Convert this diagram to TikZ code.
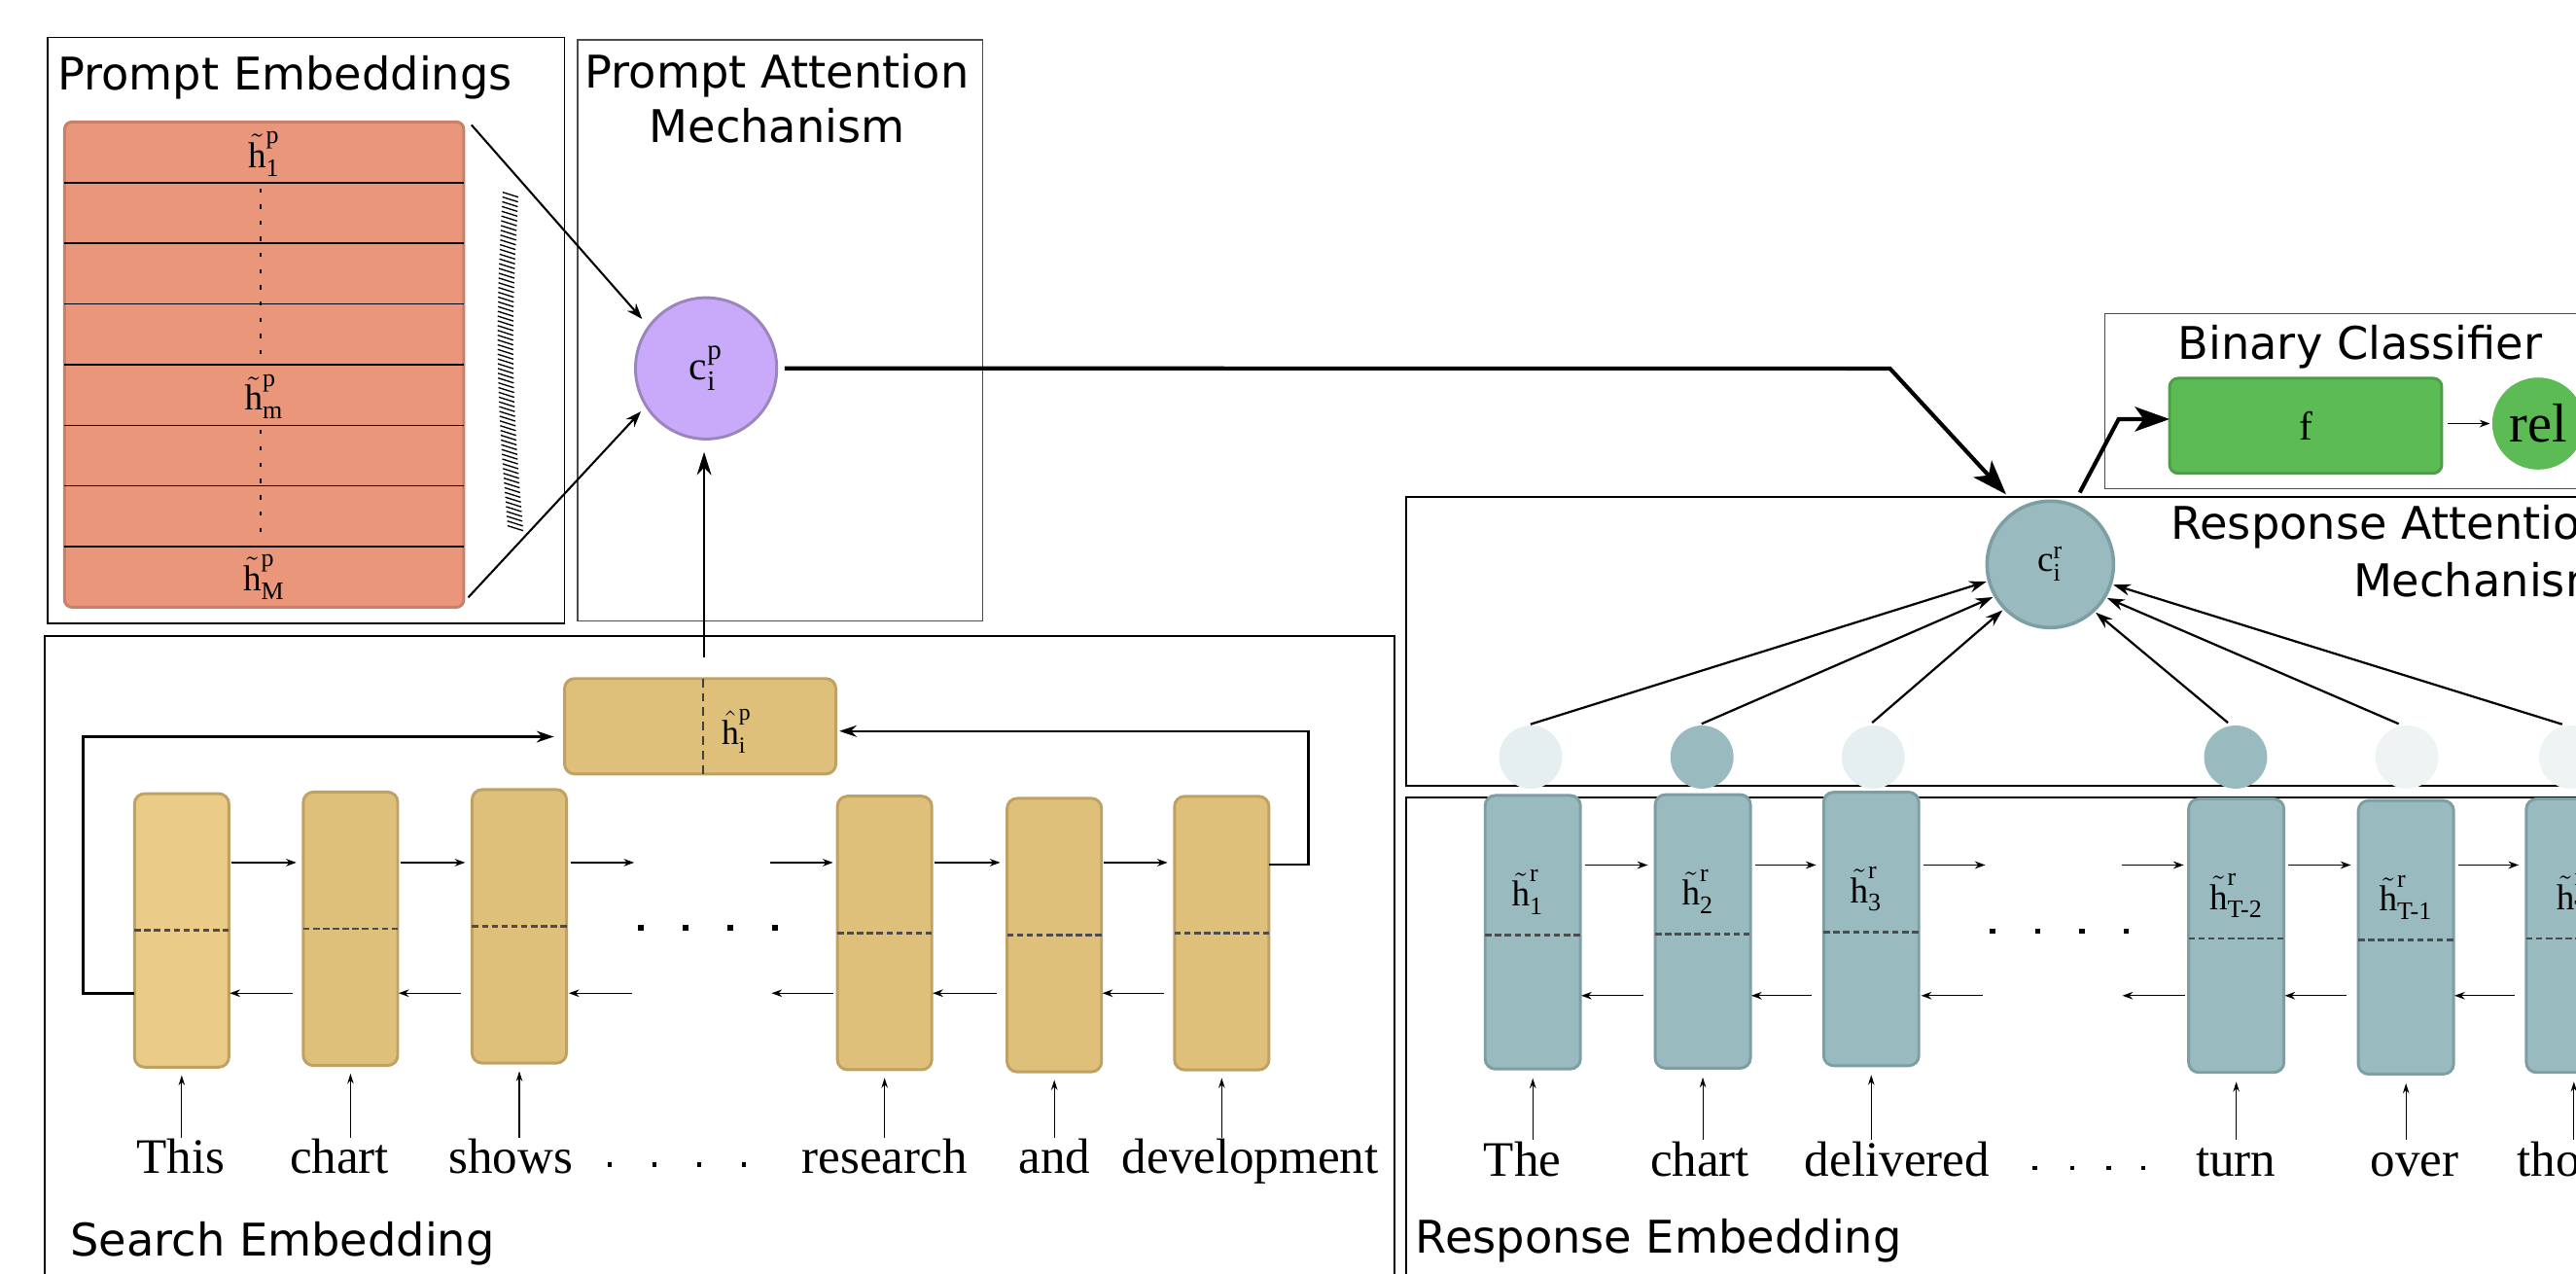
\documentclass[tikz,border=0pt]{standalone}
\usepackage{fontspec}
\usepackage{amsmath}
\setmainfont{Liberation Serif}
\newfontfamily\dvs{DejaVu Sans}
\usetikzlibrary{arrows.meta,calc}
\definecolor{cSalmon}{HTML}{E9967A}
\definecolor{cSalmonD}{HTML}{C98068}
\definecolor{cLilac}{HTML}{C9A9F9}
\definecolor{cLilacD}{HTML}{9A86BC}
\definecolor{cGold}{HTML}{DEC07A}
\definecolor{cGoldL}{HTML}{EACB87}
\definecolor{cGoldD}{HTML}{BFA263}
\definecolor{cTeal}{HTML}{99BBBF}
\definecolor{cTealD}{HTML}{7D9EA2}
\definecolor{cPale}{HTML}{E6EFF0}
\definecolor{cPaler}{HTML}{EEF4F4}
\definecolor{cGreen}{HTML}{5DBB55}
\definecolor{cGreenD}{HTML}{4E9E48}
\newcommand{\htl}[2]{$\tilde{\text{h}}^{\text{#1}}_{\text{#2}}$}
\tikzset{
  sect/.style={font=\dvs\fontsize{15.6}{18.7}\selectfont, inner sep=0pt},
  word/.style={font=\fontsize{17.2}{20}\selectfont, inner sep=0pt, anchor=base},
  hlab/.style={font=\fontsize{12.5}{14}\selectfont, inner sep=0pt},
  gcell/.style={rectangle, rounded corners=3.5pt, fill=cGold, draw=cGoldD, line width=1pt,
     minimum width=1.15cm, minimum height=3.33cm, inner sep=0pt, outer sep=0pt},
  tcell/.style={rectangle, rounded corners=3.5pt, fill=cTeal, draw=cTealD, line width=1pt,
     minimum width=1.16cm, minimum height=3.33cm, inner sep=0pt, outer sep=0pt},
  stackbox/.style={rectangle, rounded corners=2.5pt, fill=cSalmon, draw=cSalmonD, line width=1pt,
     minimum width=4.86cm, minimum height=5.908cm, inner sep=0pt, outer sep=0pt},
  attcirc/.style={circle, minimum size=0.768cm, inner sep=0pt, outer sep=0pt},
  midline/.style={draw=black!70, line width=0.9pt, dash pattern=on 2.2pt off 1.2pt},
  rowline/.style={draw=black, line width=0.5pt},
  hatchline/.style={draw=black, line width=0.45pt},
  boxA/.style={draw=black, line width=0.5pt},
  boxB/.style={draw=black!70, line width=0.5pt},
  boxC/.style={draw=black, line width=0.9pt},
  boxD/.style={draw=black, line width=0.65pt},
  sarr/.style={line width=0.45pt, -{Stealth[length=3.6pt,width=2.6pt]}},
  inarr/.style={line width=0.4pt, -{Stealth[length=3.5pt,width=2.2pt]}},
  parr/.style={line width=0.7pt, -{Stealth[length=5.5pt,width=4pt]}},
  rarr/.style={line width=0.75pt, -{Stealth[length=6pt,width=4pt]}},
  fbarr/.style={line width=0.8pt, -{Stealth[length=6pt,width=4pt]}},
  uparr/.style={line width=0.9pt, -{Stealth[length=8pt,width=5pt]}},
  thickarr/.style={line width=1.4pt, -{Stealth[length=12pt,width=8.5pt,inset=3pt]}},
}
\begin{document}
\begin{tikzpicture}[x=0.02cm, y=-0.02cm]
\useasboundingbox (0,0) rectangle (1568,775.4);
\fill[white] (0,0) rectangle (1568,775.4);
\clip (0,0) rectangle (1568,775.4);

% ---------- frames ----------
\draw[boxA] (28.9,22.9) rectangle (343.5,379.4);
\draw[boxB] (351.6,24.2) rectangle (598,378);
\draw[boxC] (27.2,387.1) rectangle (848.9,800);
\draw[boxB] (1281.2,191) rectangle (1600,297.4);
\draw[boxD] (855.8,302.6) rectangle (1600,478.5);
\draw[boxD] (855.8,485.3) rectangle (1600,800);

% ---------- section titles ----------
\node[sect, anchor=base west] (tPE) at (34.7,54.8) {Prompt Embeddings};
\node[sect, anchor=base] (tPA1) at (473,53.6) {Prompt Attention};
\node[sect, anchor=base] (tPA2) at (473,87) {Mechanism};
\node[sect, anchor=base west] (tSE) at (42.4,764.5) {Search Embedding};
\node[sect, anchor=base west] (tRE) at (861.4,762.9) {Response Embedding};
\node[sect, anchor=base west] (tBC) at (1325.3,218.8) {Binary Classifier};
\node[sect, anchor=base east] (tRA1) at (1588.5,328.5) {Response Attention};
\node[sect, anchor=base east] (tRA2) at (1588.5,363) {Mechanism};

% ---------- prompt embeddings stack ----------
\node[stackbox] (pe) at (160.8,221.9) {};
\foreach \k in {1,...,7}
  \draw[rowline] ($(pe.north west)!\k/8!(pe.south west)$) -- ($(pe.north east)!\k/8!(pe.south east)$);
\node[hlab] (pl1) at ($(pe.north)!1/16!(pe.south)+(0,1)$) {\htl{p}{1}};
\node[hlab] (plm) at ($(pe.north)!9/16!(pe.south)+(0,1)$) {\htl{p}{m}};
\node[hlab] (plM) at ($(pe.north)!15/16!(pe.south)$) {\htl{p}{M}};
\foreach \i in {0,...,10} \fill (157.9,{114.6+9.84*\i}) rectangle ++(1.6,2.6);
\foreach \i in {0,...,6} \fill (157.9,{261.6+9.95*\i}) rectangle ++(1.6,2.6);
% hatched bar
\foreach \i in {0,...,70} {
  \pgfmathsetmacro\tt{\i/70}
  \pgfmathsetmacro\yy{117+203*\tt}
  \pgfmathsetmacro\xx{306+3*\tt-4.5*sin(180*\tt)}
  \draw[hatchline] (\xx,\yy) -- ++(9.5,3);
}

% ---------- prompt attention ----------
\node[circle, fill=cLilac, draw=cLilacD, line width=1pt, minimum size=1.72cm, inner sep=0pt, outer sep=0pt,
      font=\fontsize{14}{16}\selectfont] (cp) at (429.8,224.2) {$\text{c}^{\text{p}}_{\text{i}}$};
\draw[parr, shorten >=3.6pt] ([shift={(4.7,1.8)}]pe.north east) -- (cp.144.4);
\draw[parr, shorten >=2.7pt] ([shift={(2.7,-5.9)}]pe.south east) -- (cp.212.8);

% ---------- search embedding ----------
\node[gcell, fill=cGoldL] (g1) at (110.6,566.3) {};
\node[gcell] (g2) at (213.35,565.3) {};
\node[gcell] (g3) at (316.1,563.8) {};
\node[gcell] (g4) at (538.45,567.85) {};
\node[gcell] (g5) at (641.75,569.15) {};
\node[gcell] (g6) at (743.65,567.95) {};
\foreach \i in {1,...,6} \draw[midline] (g\i.west) -- (g\i.east);

\node[rectangle, rounded corners=3.5pt, fill=cGold, draw=cGoldD, line width=1pt,
      minimum width=3.304cm, minimum height=1.162cm, inner sep=0pt, outer sep=0pt] (hp) at (426.2,442.05) {};
\coordinate (hpd) at (427.8,0);
\draw[draw=black!75, line width=0.7pt, dash pattern=on 3pt off 2pt] (hp.north -| hpd) -- (hp.south -| hpd);
\node[hlab, font=\fontsize{12}{14}\selectfont] (hpl) at (448.5,445) {$\hat{\text{h}}^{\text{p}}_{\text{i}}$};

\coordinate (hpx) at (428.6,0);
\draw[uparr, shorten <=7.4pt, shorten >=4.5pt] (hp.north -| hpx) -- (cp.south -| hpx);

\coordinate (fl1) at (50.6,604.6); \coordinate (fl2) at (50.6,448.4);
\draw[fbarr, shorten >=3.7pt] (g1.west |- fl1) -- (fl1) -- (fl2) -- (hp.west |- fl2);
\coordinate (fr1) at (796.4,526.2); \coordinate (fr2) at (796.4,445);
\draw[fbarr, shorten >=1.2pt] (g6.east |- fr1) -- (fr1) -- (fr2) -- (hp.east |- fr2);

\coordinate (fwL) at (0,525); \coordinate (bwL) at (0,604.5);
\foreach \a/\b in {g1/g2,g2/g3,g4/g5,g5/g6} {
  \draw[sarr, shorten <=0.9pt, shorten >=2.4pt] (\a.east |- fwL) -- (\b.west |- fwL);
  \draw[sarr, shorten <=3.7pt, shorten >=0.3pt] (\b.west |- bwL) -- (\a.east |- bwL);
}
\coordinate (lgf1) at (386,525); \coordinate (lgf2) at (468.6,525);
\coordinate (lgb1) at (384.9,604.5); \coordinate (lgb2) at (469.7,604.5);
\draw[sarr, shorten <=1.5pt] (g3.east |- fwL) -- (lgf1);
\draw[sarr, shorten >=1.5pt] (lgf2) -- (g4.west |- fwL);
\draw[sarr, shorten >=0.8pt] (lgb1) -- (g3.east |- bwL);
\draw[sarr, shorten <=1.5pt] (g4.west |- bwL) -- (lgb2);
\foreach \x in {390,417.5,444.7,471.8} \fill (\x-1.7,563) rectangle ++(3.4,3.4);

\node[word] (w1) at (110,714) {This};
\node[word] (w2) at (206.6,714) {chart};
\node[word] (w3) at (311,714) {shows};
\node[word] (w4) at (538.5,714) {research};
\node[word] (w5) at (642,714) {and};
\node[word] (w6) at (761,714) {development};
\foreach \x in {371.3,398.5,425.6,452.8} \fill (\x-1.3,707.5) rectangle ++(2.6,2.6);
\coordinate (inL) at (0,692.4);
\foreach \i in {1,...,6} \draw[inarr, shorten >=2.8pt] (g\i.south |- inL) -- (g\i.south);

% ---------- response embedding ----------
\node[tcell] (t1) at (933,567.4) {};
\node[tcell] (t2) at (1036.5,566.9) {};
\node[tcell] (t3) at (1139,565.4) {};
\node[tcell] (t4) at (1361.2,569.5) {};
\node[tcell] (t5) at (1464.5,570.5) {};
\node[tcell] (t6) at (1566.7,569.5) {};
\foreach \i in {1,...,6} \draw[midline] ([yshift=-1pt]t\i.west) -- ([yshift=-1pt]t\i.east);
\node[hlab, anchor=base] (r1) at ($(t1.center)+(-3,-16)$) {\htl{r}{1}};
\node[hlab, anchor=base] (r2) at ($(t2.center)+(-3,-16)$) {\htl{r}{2}};
\node[hlab, anchor=base] (r3) at ($(t3.center)+(-3,-16)$) {\htl{r}{3}};
\node[hlab, anchor=base] (r4) at ($(t4.center)+(0,-16)$) {\htl{r}{T-2}};
\node[hlab, anchor=base] (r5) at ($(t5.center)+(0,-16)$) {\htl{r}{T-1}};
\node[hlab, anchor=base] (r6) at ($(t6.center)+(0,-16)$) {\htl{r}{T}};

\coordinate (fwR) at (0,526.5); \coordinate (bwR) at (0,606);
\foreach \a/\b in {t1/t2,t2/t3,t4/t5,t5/t6} {
  \draw[sarr, shorten <=1.6pt, shorten >=2.6pt] (\a.east |- fwR) -- (\b.west |- fwR);
  \draw[sarr, shorten <=4pt, shorten >=0.3pt] (\b.west |- bwR) -- (\a.east |- bwR);
}
\coordinate (rgf1) at (1208.4,526.5); \coordinate (rgf2) at (1291.4,526.5);
\coordinate (rgb1) at (1207,606); \coordinate (rgb2) at (1291.9,606);
\draw[sarr, shorten <=1.6pt] (t3.east |- fwR) -- (rgf1);
\draw[sarr, shorten >=1.7pt] (rgf2) -- (t4.west |- fwR);
\draw[sarr, shorten >=0.8pt] (rgb1) -- (t3.east |- bwR);
\draw[sarr, shorten <=1.3pt] (t4.west |- bwR) -- (rgb2);
\foreach \x in {1213,1240.4,1267.3,1294.2} \fill (\x-1.7,565.1) rectangle ++(3.4,3.4);

\node[word] (v1) at (926.7,715.8) {The};
\node[word] (v2) at (1034.7,715.8) {chart};
\node[word] (v3) at (1154.8,715.8) {delivered};
\node[word] (v4) at (1361,715.8) {turn};
\node[word] (v5) at (1469.8,715.8) {over};
\node[word, anchor=base west] (v6) at (1531.7,715.8) {those};
\foreach \x in {1238.5,1261.3,1283.5,1304.4} \fill (\x-1.3,709.5) rectangle ++(2.6,2.6);
\coordinate (inR) at (0,693.8);
\foreach \i in {1,...,6} \draw[inarr, shorten >=3.2pt] (t\i.south |- inR) -- (t\i.south);

% ---------- response attention ----------
\node[attcirc, fill=cPale] (a1) at (931.7,460.8) {};
\node[attcirc, fill=cTeal] (a2) at (1036,460.8) {};
\node[attcirc, fill=cPale] (a3) at (1140.2,460.8) {};
\node[attcirc, fill=cTeal] (a4) at (1360.8,460.8) {};
\node[attcirc, fill=cPaler] (a5) at (1465.1,460.8) {};
\node[attcirc, fill=cPaler] (a6) at (1564.7,460.8) {};

\node[circle, fill=cTeal, draw=cTealD, line width=1.2pt, minimum size=1.54cm, inner sep=0pt, outer sep=0pt,
      font=\fontsize{12.5}{14}\selectfont] (cr) at (1248,343.5) {$\text{c}^{\text{r}}_{\text{i}}$};
\foreach \i/\a in {1/195.6,2/210,3/224.5,4/313.2,5/329.9,6/342.9}
  \draw[rarr, shorten <=1.5pt, shorten >=1pt] ([xshift=-1.5pt]a\i.north) -- (cr.\a);

% ---------- binary classifier ----------
\node[rectangle, rounded corners=3pt, fill=cGreen, draw=cGreenD, line width=1pt,
      minimum width=3.314cm, minimum height=1.158cm, inner sep=0pt, outer sep=0pt,
      font=\fontsize{14}{16}\selectfont] (fb) at (1403.45,259.15) {f};
\node[circle, fill=cGreen, minimum size=1.12cm, inner sep=0pt, outer sep=0pt,
      font=\fontsize{19}{21}\selectfont] (rel) at (1545,257.8) {rel};
\draw[sarr, shorten <=2pt, shorten >=0.8pt] (fb.east |- rel.west) -- (rel.west);

% ---------- thick connectors ----------
\coordinate (k1) at (1150.4,224.3);
\draw[thickarr, shorten <=2.7pt, shorten >=6.9pt] (cp.east) -- (k1) -- (cr.119.3);
\coordinate (k2) at (1289.6,255.1);
\draw[thickarr, shorten <=5pt] (cr.69.1) -- (k2) -- (fb.west |- k2);
\end{tikzpicture}
\end{document}
